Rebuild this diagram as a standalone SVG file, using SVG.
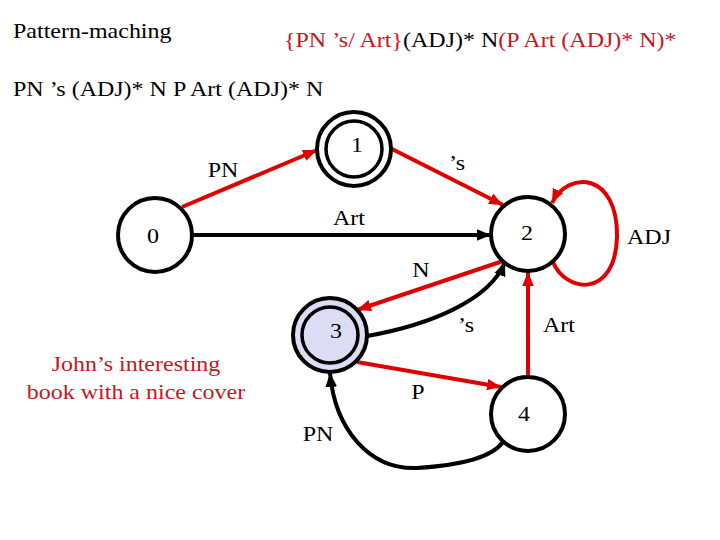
<svg xmlns="http://www.w3.org/2000/svg" width="720" height="540" viewBox="0 0 720 540" font-family="'Liberation Serif', serif">
<style>
text{font-family:'Liberation Serif',serif;font-size:20px;fill:#000}
.red{fill:#c8161d}
.mid{text-anchor:middle}
.node{fill:#fff;stroke:#000;stroke-width:4}
.inner{fill:none;stroke:#000;stroke-width:3.5}
.er{fill:none;stroke:#e00000;stroke-width:4}
.eb{fill:none;stroke:#000;stroke-width:4}
</style>
<defs>
<marker id="ar" markerUnits="userSpaceOnUse" markerWidth="14" markerHeight="12" refX="12" refY="5" orient="auto" viewBox="0 0 12 10"><path d="M0,0 L12,5 L0,10 z" fill="#e00000"/></marker>
<marker id="ab" markerUnits="userSpaceOnUse" markerWidth="14" markerHeight="12" refX="12" refY="5" orient="auto" viewBox="0 0 12 10"><path d="M0,0 L12,5 L0,10 z" fill="#000"/></marker>
</defs>
<rect width="720" height="540" fill="#fff"/>
<g id="titles">
<text transform="translate(13,38) scale(1.2,1)">Pattern-maching</text>
<text transform="translate(284,47) scale(1.2,1)"><tspan class="red">{PN ’s/ Art}</tspan>(ADJ)* N<tspan class="red">(P Art (ADJ)* N)*</tspan></text>
<text transform="translate(13,96) scale(1.2,1)">PN ’s (ADJ)* N P Art (ADJ)* N</text>
<text class="red mid" transform="translate(136,371) scale(1.2,1)">John’s interesting</text>
<text class="red mid" transform="translate(136,399) scale(1.2,1)">book with a nice cover</text>
</g>
<g id="connectors">
<path class="er" d="M182,207 L317,150" marker-end="url(#ar)"/>
<path class="er" d="M390,148 L503,205" marker-end="url(#ar)"/>
<path class="eb" d="M192,235 L491,235" marker-end="url(#ab)"/>
<path class="er" d="M553,262 C565,292 615,300 617,237 C618,172 568,170 552,203" marker-end="url(#ar)"/>
<path class="er" d="M503,261 L357,310" marker-end="url(#ar)"/>
<path class="eb" d="M367,336 C430,325 490,300 505,262" marker-end="url(#ab)"/>
<path class="er" d="M528,377 L528,272" marker-end="url(#ar)"/>
<path class="er" d="M357,362 L501,387" marker-end="url(#ar)"/>
<path class="eb" d="M503,442 C490,460 450,466 417,468 C370,470 335,430 330,373" marker-end="url(#ab)"/>
<text class="mid" transform="translate(223,177) scale(1.2,1)">PN</text>
<text class="mid" transform="translate(457,170) scale(1.2,1)">’s</text>
<text class="mid" transform="translate(349,225) scale(1.2,1)">Art</text>
<text class="mid" transform="translate(649,244) scale(1.2,1)">ADJ</text>
<text class="mid" transform="translate(421,277) scale(1.2,1)">N</text>
<text class="mid" transform="translate(466,332) scale(1.2,1)">’s</text>
<text class="mid" transform="translate(559,332) scale(1.2,1)">Art</text>
<text class="mid" transform="translate(418,399) scale(1.2,1)">P</text>
<text class="mid" transform="translate(318,441) scale(1.2,1)">PN</text>
</g>
<g id="node0">
<circle class="node" cx="155" cy="235" r="37"/>
<text class="mid" transform="translate(153,243) scale(1.2,1)">0</text>
</g>
<g id="node1">
<circle class="node" cx="354" cy="149" r="37"/>
<circle class="inner" cx="354" cy="149" r="28"/>
<text class="mid" transform="translate(357,152) scale(1.2,1)">1</text>
</g>
<g id="node2">
<circle class="node" cx="528" cy="234" r="37"/>
<text class="mid" transform="translate(527,240) scale(1.2,1)">2</text>
</g>
<g id="node3">
<circle class="node" cx="330" cy="335" r="37" style="fill:#dcdcf4"/>
<circle class="inner" cx="330" cy="335" r="28"/>
<text class="mid" transform="translate(336,338) scale(1.2,1)">3</text>
</g>
<g id="node4">
<circle class="node" cx="528" cy="414" r="37"/>
<text class="mid" transform="translate(524,421) scale(1.2,1)">4</text>
</g>
</svg>
